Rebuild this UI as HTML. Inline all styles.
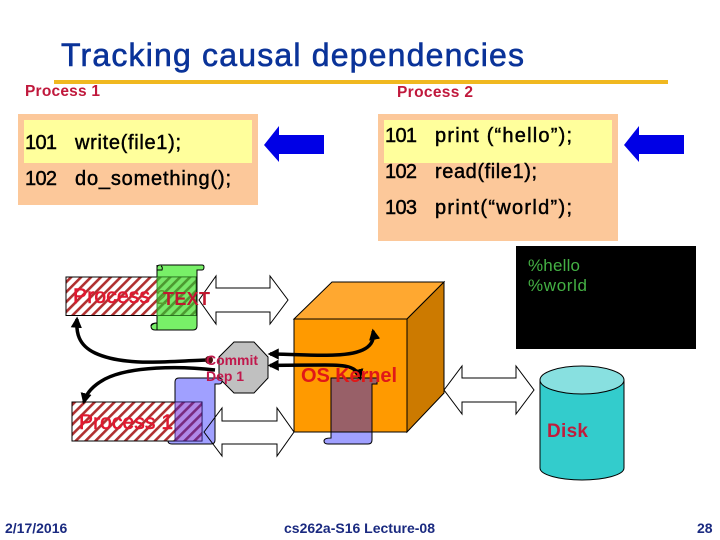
<!DOCTYPE html>
<html><head><meta charset="utf-8"><style>
html,body{margin:0;padding:0;background:#fff}
svg{display:block}
text{font-family:"Liberation Sans",sans-serif}
.c{font-size:20px;fill:#000;stroke:#000;stroke-width:.45}
.f{font-size:14px;font-weight:bold;fill:#1a2a80}
</style></head><body>
<svg width="720" height="540" viewBox="0 0 720 540" xmlns="http://www.w3.org/2000/svg">
<defs>
<pattern id="h" width="7" height="7" patternUnits="userSpaceOnUse" patternTransform="rotate(45)">
<rect width="7" height="7" fill="#fff"/><rect x="0" width="2.600" height="7" fill="#b03030"/>
</pattern>
<pattern id="hg" width="7" height="7" patternUnits="userSpaceOnUse" patternTransform="rotate(45)">
<rect width="7" height="7" fill="#78e868"/><rect x="0" width="2.600" height="7" fill="#4c9a30"/>
</pattern>
<pattern id="hb" width="7" height="7" patternUnits="userSpaceOnUse" patternTransform="rotate(45)">
<rect width="7" height="7" fill="#b088e8"/><rect x="0" width="2.600" height="7" fill="#782a80"/>
</pattern>
<marker id="a" markerWidth="3.200" markerHeight="3.200" refX="2.500" refY="1.600" orient="auto-start-reverse"><path d="M0 0L3.200 1.600L0 3.200z" fill="#000"/></marker>
</defs>
<text x="61" y="66" font-size="32" fill="#0a3399" stroke="#0a3399" stroke-width=".6" textLength="463">Tracking causal dependencies</text>
<rect x="54" y="80" width="614" height="4" fill="#f0b820"/>
<text x="25" y="96" font-size="15.500" font-weight="bold" fill="#c0183c" textLength="75">Process 1</text>
<text x="397" y="97" font-size="15.500" font-weight="bold" fill="#c0183c" textLength="76">Process 2</text>

<rect x="18" y="114" width="240" height="91" fill="#fcc89a"/>
<rect x="24" y="120" width="228" height="43" fill="#ffff9c"/>
<text x="25" y="149" class="c" textLength="32">101</text>
<text x="75" y="149" class="c" textLength="106">write(file1);</text>
<text x="25" y="185" class="c" textLength="32">102</text>
<text x="75" y="185" class="c" textLength="156">do_something();</text>
<path d="M264 145L279 126V135H324V154H279V162z" fill="#0000e6"/>

<rect x="378" y="114" width="240" height="127" fill="#fcc89a"/>
<rect x="384" y="120" width="228" height="43" fill="#ffff9c"/>
<text x="385" y="142" class="c" textLength="32">101</text>
<text x="435" y="142" class="c" textLength="137">print (“hello”);</text>
<text x="385" y="178" class="c" textLength="32">102</text>
<text x="435" y="178" class="c" textLength="102">read(file1);</text>
<text x="385" y="214" class="c" textLength="32">103</text>
<text x="435" y="214" class="c" textLength="137">print(“world”);</text>
<path d="M624 145L639 126V135H684V154H639V162z" fill="#0000e6"/>

<rect x="516" y="246" width="180" height="103" fill="#000"/>
<text x="528" y="271" font-size="17" fill="#44b044" textLength="52">%hello</text>
<text x="528" y="291" font-size="17" fill="#44b044" textLength="59">%world</text>

<!-- green scroll -->
<g stroke="#000" stroke-width="1">
<path d="M157 268Q157 265 160 265H202Q204 265 204 267Q204 270 202 270H197V326Q197 330 193 330H155Q151 330 151 326Q151 323 157 323z" fill="#78f068"/>
<path d="M157 265V270H162Q163 267 161 266" fill="none"/>
<path d="M151 326Q153 323 157 323V330" fill="none"/>
</g>
<rect x="66" y="277" width="130" height="38.500" fill="url(#h)" stroke="#000"/>
<rect x="157" y="277" width="39" height="38.500" fill="url(#hg)" stroke="#2a7a20" stroke-width=".8"/>

<!-- cube -->
<g stroke="#000" stroke-width="1">
<path d="M294 319L332 282H444L407 319z" fill="#ffa830"/>
<path d="M407 319L444 282V393L407 432z" fill="#cc7a00"/>
<rect x="294" y="319" width="113" height="113" fill="#ff9a00"/>
</g>

<!-- octagon -->
<path d="M234 342H254L268 357V378L254 393H234L219 378V357z" fill="#c0c0c0" stroke="#000"/>

<!-- blue scroll proc 1 -->
<g stroke="#000" stroke-width="1">
<path d="M175 382Q175 378 179 378H219Q222 378 222 381Q222 384 219 384H215V440Q215 444 211 444H172Q168 444 168 441Q168 438 175 438z" fill="#a0a0ff"/>
</g>
<rect x="72" y="402" width="130" height="39" fill="url(#h)" stroke="#000"/>
<rect x="175" y="402" width="27" height="39" fill="url(#hb)" stroke="#201060" stroke-width=".8"/>

<!-- double arrows (outline only) -->
<g fill="none" stroke="#000" stroke-width="1">
<path d="M199 300L216 276V288H270V276L288 300L270 324V312H216V324z"/>
<path d="M204 432L222 408V421H277V408L294 432L277 456V444H222V456z"/>
<path d="M444 390L462 366V378H516V366L534 390L516 414V402H462V414z"/>
</g>

<!-- kernel scroll -->
<g stroke="#000" stroke-width="1">
<path d="M331 382Q331 378 335 378H374Q377 378 377 381Q377 384 374 384H372V440Q372 444 368 444H328Q324 444 324 441Q324 438 331 438z" fill="#a0a0ff"/>
<path d="M331 378H377V384H372V432H331z" fill="#986068"/>
</g>

<!-- curved arrows -->
<g fill="none" stroke="#000" stroke-width="3.500">
<path d="M208 360C170 361 125 367 95 353C78 345 76 332 77 319" marker-end="url(#a)"/>
<path d="M215 370C180 366 130 366 105 379C92 386 86 394 84 402" marker-end="url(#a)"/>
<path d="M373 331C376 347 362 354 335 355C315 356 290 354 270 354" marker-start="url(#a)" marker-end="url(#a)"/>
<path d="M360 378C357 366 345 365 325 365C305 365 290 365 270 365.500" marker-start="url(#a)" marker-end="url(#a)"/>
</g>
<circle cx="209" cy="360" r="4" fill="#501010"/>

<!-- labels on top -->
<text x="73" y="303" font-size="21" fill="#e01830" stroke="#e01830" stroke-width=".6" textLength="77">Process</text>
<text x="156" y="304" font-size="20" fill="#5c9a30">2</text>
<text x="163" y="305" font-size="18" font-weight="bold" fill="#c01830" textLength="47">TEXT</text>
<text x="79" y="429" font-size="21" fill="#e01830" stroke="#e01830" stroke-width=".6" textLength="94">Process 1</text>
<text x="206" y="365" font-size="14" font-weight="bold" fill="#c0184c" textLength="52">Commit</text>
<text x="206" y="381" font-size="14" font-weight="bold" fill="#c0184c" textLength="38">Dep 1</text>
<text x="301" y="382" font-size="20" font-weight="bold" fill="#e01818" textLength="96">OS Kernel</text>

<!-- disk -->
<path d="M540 380V468C540 475 560 480 582 480C604 480 624 475 624 468V380z" fill="#33cccc" stroke="#000"/>
<ellipse cx="582" cy="380" rx="42" ry="14" fill="#88e0e0" stroke="#000"/>
<text x="547" y="437" font-size="19" font-weight="bold" fill="#c01c3c" textLength="41">Disk</text>

<text x="5" y="533" class="f">2/17/2016</text>
<text x="284" y="533" class="f">cs262a-S16 Lecture-08</text>
<text x="697" y="533" class="f">28</text>
</svg>
</body></html>
